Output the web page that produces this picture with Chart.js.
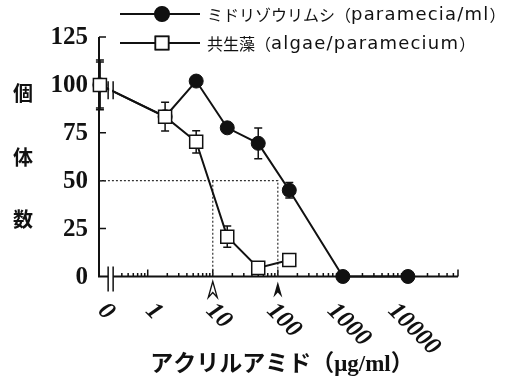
<!DOCTYPE html>
<html>
<head>
<meta charset="utf-8">
<script src="https://cdn.jsdelivr.net/npm/chart.js@4.4.1/dist/chart.umd.min.js"></script>
<style>
    html, body { margin: 0; padding: 0; background: #fff; }
    #wrap { width: 513px; height: 378px; }
</style>
</head>
<body>
<div id="wrap"><canvas id="toxChart" width="513" height="378"></canvas></div>
<script>
// acrylamide concentration (ug/ml), 0 = untreated control
const concentrations = [0, 1.85, 5.56, 16.7, 50, 150, 1000, 10000];
// relative counts (% of control)
const parameciaPct = [100, 83.4, 102, 77.6, 69.5, 45, 0, 0];
const parameciaErr = [13, 0, 0, 0, 8, 4, 0, 0];
const algaePct = [100, 83.4, 70.3, 20.8, 4.5, 8.6, null, null];
const algaeErr = [12, 7.5, 5.8, 5.5, 0, 0, null, null];

const xTickValues = [0, 1, 10, 100, 1000, 10000];
const xTickLabels = ['0', '1', '10', '100', '1000', '10000'];
const yTickValues = [0, 25, 50, 75, 100, 125];
const seriesLabels = ['ミドリゾウリムシ（paramecia/ml）', '共生藻（algae/paramecium）'];
const yTitleChars = ['個', '体', '数'];
const xTitle = 'アクリルアミド（μg/ml）';
// 50% guide lines and arrows (IC50)
const guideLevel = 50;
const guideConc = [10, 100];

(function(){
    const ZERO_POS = -0.735;   // where the control (0) sits on the log axis
    const BREAK_POS = -0.57;   // axis break between 0 and the log part
    const X_MIN = -0.749, X_MAX = 4.77;

    function toX(c) { return c === 0 ? ZERO_POS : Math.log10(c); }

    function points(vals) {
        const out = [];
        concentrations.forEach((c, i) => {
            if (vals[i] !== null) out.push({ x: toX(c), y: vals[i] });
        });
        return out;
    }

    // draw a label in runs: CJK glyphs in a gothic font, latin in a wider sans
    function drawMixed(ctx, text, x, y) {
        const runs = [];
        for (const ch of text) {
            const cjk = ch.charCodeAt(0) > 0x2000;
            if (runs.length && runs[runs.length - 1].cjk === cjk) runs[runs.length - 1].s += ch;
            else runs.push({ cjk: cjk, s: ch });
        }
        runs.forEach(r => {
            if (r.cjk) {
                ctx.font = '16px "Noto Sans CJK JP", sans-serif';
                ctx.letterSpacing = '0px';
            } else {
                ctx.font = '18px "DejaVu Sans", sans-serif';
                ctx.letterSpacing = '1.2px';
            }
            ctx.fillText(r.s, x, y);
            x += ctx.measureText(r.s).width;
        });
        ctx.letterSpacing = '0px';
    }

    // error bars, drawn under the markers
    const errorBars = {
        id: 'errorBars',
        beforeDatasetsDraw(chart) {
            const ctx = chart.ctx;
            const xs = chart.scales.x, ys = chart.scales.y;
            const sets = [[parameciaPct, parameciaErr], [algaePct, algaeErr]];
            ctx.save();
            ctx.strokeStyle = '#111';
            ctx.lineWidth = 1.5;
            sets.forEach(([vals, errs]) => {
                concentrations.forEach((c, i) => {
                    if (vals[i] === null || !errs[i]) return;
                    const px = xs.getPixelForValue(toX(c));
                    const top = ys.getPixelForValue(vals[i] + errs[i]);
                    const bot = ys.getPixelForValue(vals[i] - errs[i]);
                    ctx.beginPath();
                    ctx.moveTo(px, top); ctx.lineTo(px, bot);
                    ctx.moveTo(px - 4, top); ctx.lineTo(px + 4, top);
                    ctx.moveTo(px - 4, bot); ctx.lineTo(px + 4, bot);
                    ctx.stroke();
                });
            });
            ctx.restore();
        }
    };

    // axes, ticks, break marks (under the datasets)
    const axesDraw = {
        id: 'axesDraw',
        beforeDatasetsDraw(chart) {
            const ctx = chart.ctx;
            const xs = chart.scales.x, ys = chart.scales.y;
            const a = chart.chartArea;
            const axisY = ys.getPixelForValue(0);
            const xb = xs.getPixelForValue(BREAK_POS);
            ctx.save();
            ctx.strokeStyle = '#111';
            ctx.lineWidth = 2;
            ctx.beginPath();
            // y axis
            ctx.moveTo(a.left, ys.getPixelForValue(125));
            ctx.lineTo(a.left, axisY);
            // x axis with gap at the break
            ctx.lineTo(xb - 2.5, axisY);
            ctx.moveTo(xb + 2.5, axisY);
            ctx.lineTo(a.right, axisY);
            ctx.stroke();

            // y ticks, pointing inward
            ctx.lineWidth = 1.5;
            ctx.beginPath();
            yTickValues.forEach(v => {
                if (v === 0) return;
                const py = ys.getPixelForValue(v);
                ctx.moveTo(a.left, py); ctx.lineTo(a.left + 7, py);
            });
            // x ticks (log decades), pointing up
            for (let d = -1; d <= 4; d++) {
                for (let m = 1; m <= 9; m++) {
                    const v = d + Math.log10(m);
                    if (v <= BREAK_POS + 0.05 || v > X_MAX) continue;
                    const px = xs.getPixelForValue(v);
                    const len = m === 1 ? 7 : 3.5;
                    ctx.moveTo(px, axisY); ctx.lineTo(px, axisY - len);
                }
            }
            ctx.moveTo(a.right, axisY); ctx.lineTo(a.right, axisY - 7);
            ctx.stroke();

            // break marks on the x axis
            ctx.lineWidth = 1.5;
            ctx.beginPath();
            ctx.moveTo(xb - 2.5, axisY - 10); ctx.lineTo(xb - 2.5, axisY + 15);
            ctx.moveTo(xb + 2.5, axisY - 10); ctx.lineTo(xb + 2.5, axisY + 15);
            ctx.stroke();
            ctx.restore();
        },
        afterDatasetsDraw(chart) {
            // break marks on the data line between control and first dose
            const ctx = chart.ctx;
            const xs = chart.scales.x;
            const xb = xs.getPixelForValue(BREAK_POS);
            const meta = chart.getDatasetMeta(0).data;
            const p0 = meta[0], p1 = meta[1];
            const t = (xb - p0.x) / (p1.x - p0.x);
            const yb = p0.y + t * (p1.y - p0.y);
            ctx.save();
            ctx.fillStyle = '#fff';
            ctx.fillRect(xb - 1.5, yb - 6, 3, 12);
            ctx.strokeStyle = '#111';
            ctx.lineWidth = 1.5;
            ctx.beginPath();
            ctx.moveTo(xb - 2.5, yb - 9); ctx.lineTo(xb - 2.5, yb + 9);
            ctx.moveTo(xb + 2.5, yb - 9); ctx.lineTo(xb + 2.5, yb + 9);
            ctx.stroke();
            ctx.restore();
        },
        afterDraw(chart) {
            const ctx = chart.ctx;
            const xs = chart.scales.x, ys = chart.scales.y;
            const a = chart.chartArea;
            const axisY = ys.getPixelForValue(0);
            ctx.save();
            ctx.fillStyle = '#111';

            // y tick labels
            ctx.font = 'bold 25px "Liberation Serif", serif';
            ctx.textAlign = 'right';
            ctx.textBaseline = 'middle';
            yTickValues.forEach(v => {
                ctx.fillText(String(v), a.left - 11, ys.getPixelForValue(v) + 1);
            });

            // x tick labels, rotated 45deg clockwise, top edge kept level
            ctx.font = 'italic bold 25px "Liberation Serif", serif';
            ctx.textAlign = 'center';
            ctx.textBaseline = 'middle';
            xTickValues.forEach((v, i) => {
                const px = xs.getPixelForValue(toX(v));
                const w = ctx.measureText(xTickLabels[i]).width;
                const half = (w + 16) * Math.SQRT1_2 / 2;
                ctx.save();
                ctx.translate(px + 6, axisY + 25 + half);
                ctx.rotate(Math.PI / 4);
                ctx.fillText(xTickLabels[i], 0, 0);
                ctx.restore();
            });

            // IC50 arrows under the axis
            guideConc.forEach((c, i) => {
                const px = xs.getPixelForValue(toX(c));
                const ty = axisY + 5;
                ctx.beginPath();
                ctx.moveTo(px, ty);
                ctx.lineTo(px + 4.5, ty + 16);
                ctx.lineTo(px, ty + 11);
                ctx.lineTo(px - 4.5, ty + 16);
                ctx.closePath();
                if (i === 0) {
                    ctx.lineWidth = 1.3;
                    ctx.strokeStyle = '#111';
                    ctx.stroke();
                } else {
                    ctx.fill();
                }
            });

            // axis titles
            ctx.font = 'bold 20px "Noto Sans CJK JP", sans-serif';
            ctx.textAlign = 'center';
            ctx.textBaseline = 'middle';
            const yCenters = [93, 157, 219];
            yTitleChars.forEach((ch, i) => ctx.fillText(ch, 23, yCenters[i]));

            ctx.font = 'bold 23px "Liberation Serif", "Noto Sans CJK JP", serif';
            ctx.fillText(xTitle, 282, 365);

            // legend: line + marker + text
            const rows = [
                { y: 14, ds: chart.data.datasets[1], text: seriesLabels[0] },
                { y: 43, ds: chart.data.datasets[0], text: seriesLabels[1] }
            ];
            ctx.textAlign = 'left';
            rows.forEach(r => {
                ctx.strokeStyle = '#111';
                ctx.lineWidth = 2;
                ctx.beginPath();
                ctx.moveTo(120, r.y); ctx.lineTo(200, r.y);
                ctx.stroke();
                Chart.helpers.drawPoint(ctx, {
                    pointStyle: r.ds.pointStyle,
                    radius: r.ds.pointRadius,
                    borderWidth: r.ds.pointBorderWidth,
                    rotation: 0
                }, 162, r.y);
                ctx.fillStyle = r.ds.pointBackgroundColor;
                ctx.strokeStyle = '#111';
                ctx.lineWidth = r.ds.pointBorderWidth;
                ctx.fill();
                ctx.stroke();
                ctx.fillStyle = '#111';
                drawMixed(ctx, r.text, 207, r.y + 1);
            });
            ctx.restore();
        }
    };

    try {
        const ctx = document.getElementById('toxChart');
        window.__TOX_CHART = new Chart(ctx, {
            type: 'line',
            data: {
                datasets: [
                    {
                        label: seriesLabels[1],
                        data: points(algaePct),
                        borderColor: '#111',
                        borderWidth: 2,
                        pointStyle: 'rect',
                        pointRadius: 9.2,
                        pointBorderWidth: 1.5,
                        pointBackgroundColor: '#fff',
                        pointBorderColor: '#111',
                        tension: 0,
                        clip: false,
                        order: 0
                    },
                    {
                        label: seriesLabels[0],
                        data: points(parameciaPct),
                        borderColor: '#111',
                        borderWidth: 2,
                        pointStyle: 'circle',
                        pointRadius: 7,
                        pointBorderWidth: 1,
                        pointBackgroundColor: '#111',
                        pointBorderColor: '#111',
                        tension: 0,
                        clip: false,
                        order: 1
                    },
                    {
                        label: 'guide',
                        data: [
                            { x: toX(0), y: guideLevel },
                            { x: toX(guideConc[1]), y: guideLevel },
                            { x: toX(guideConc[1]), y: 0 }
                        ],
                        borderColor: '#333',
                        borderWidth: 1.2,
                        borderDash: [2, 2],
                        pointRadius: 0,
                        clip: false,
                        order: 3
                    },
                    {
                        label: 'guide2',
                        data: [
                            { x: toX(guideConc[0]), y: guideLevel },
                            { x: toX(guideConc[0]), y: 0 }
                        ],
                        borderColor: '#333',
                        borderWidth: 1.2,
                        borderDash: [2, 2],
                        pointRadius: 0,
                        clip: false,
                        order: 3
                    }
                ]
            },
            options: {
                responsive: false,
                animation: false,
                devicePixelRatio: 1,
                layout: { padding: { left: 99, right: 55, top: 37, bottom: 101.5 } },
                plugins: { legend: { display: false }, tooltip: { enabled: false } },
                scales: {
                    x: { type: 'linear', min: X_MIN, max: X_MAX, display: false },
                    y: { type: 'linear', min: 0, max: 125, display: false }
                }
            },
            plugins: [axesDraw, errorBars]
        });
    } catch (err) {
        console.error('chart init error', err);
    }
})();
</script>
</body>
</html>
